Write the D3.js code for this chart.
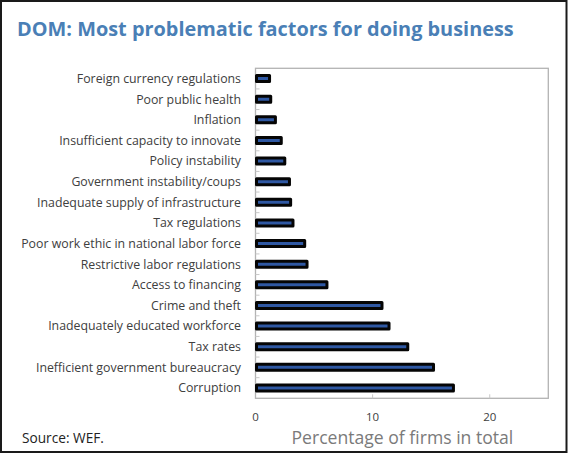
<!DOCTYPE html>
<html>
<head>
<meta charset="utf-8">
<script src="https://cdn.jsdelivr.net/npm/d3@7/dist/d3.min.js"></script>
<style>
  html, body { margin: 0; padding: 0; background: #fff; }
  svg { display: block; }
  text { font-family: "Open Sans", "Noto Sans", sans-serif; }
</style>
</head>
<body>
<svg id="chart" width="568" height="454"></svg>
<script>
// Factors, top to bottom, and share of firms citing each (%)
const factors = [
  "Foreign currency regulations",
  "Poor public health",
  "Inflation",
  "Insufficient capacity to innovate",
  "Policy instability",
  "Government instability/coups",
  "Inadequate supply of infrastructure",
  "Tax regulations",
  "Poor work ethic in national labor force",
  "Restrictive labor regulations",
  "Access to financing",
  "Crime and theft",
  "Inadequately educated workforce",
  "Tax rates",
  "Inefficient government bureaucracy",
  "Corruption"
];
const shares = [1.2, 1.3, 1.7, 2.2, 2.5, 2.9, 3.0, 3.2, 4.2, 4.4, 6.1, 10.8, 11.4, 13.0, 15.2, 16.9];
const xTicks = [0, 10, 20];

const titleText = "DOM: Most problematic factors for doing business";
const sourceText = "Source: WEF.";
const axisTitle = "Percentage of firms in total";

const svg = d3.select("#chart");
const W = 568, H = 454;

// Scale a text element's font so it spans the given width
function fitWidth(sel, base, width) {
  sel.attr("font-size", base);
  const w = sel.node().getComputedTextLength();
  sel.attr("font-size", base * width / w);
  return base * width / w;
}

// Frame around the whole figure
svg.append("rect")
  .attr("x", 1).attr("y", 1).attr("width", W - 2.5).attr("height", H - 3)
  .attr("fill", "none").attr("stroke", "#1a1a1a").attr("stroke-width", 2);

// Title
const title = svg.append("text")
  .attr("x", 17).attr("y", 36)
  .attr("fill", "#4a7fb6")
  .attr("font-weight", "bold")
  .text(titleText);
fitWidth(title, 18, 497);

// Plot area
const plot = { left: 255.5, right: 548.3, top: 68.3, bottom: 398.3 };

const x = d3.scaleLinear().domain([0, 25]).range([plot.left, plot.right]);
const y = d3.scaleBand().domain(factors).range([plot.top, plot.bottom]);

svg.append("rect")
  .attr("x", plot.left).attr("y", plot.top)
  .attr("width", plot.right - plot.left).attr("height", plot.bottom - plot.top)
  .attr("fill", "none").attr("stroke", "#b3b3b3").attr("stroke-width", 1.3);

// Category boundary tick marks inside the left edge
const bounds = factors.slice(1).map(f => y(f));
svg.append("g").selectAll("line").data(bounds).join("line")
  .attr("x1", plot.left).attr("x2", plot.left + 4)
  .attr("y1", d => d).attr("y2", d => d)
  .attr("stroke", "#c8c8c8").attr("stroke-width", 1);

// Value tick marks inside the bottom edge
svg.append("g").selectAll("line").data(xTicks.filter(t => t > 0)).join("line")
  .attr("x1", d => x(d)).attr("x2", d => x(d))
  .attr("y1", plot.bottom).attr("y2", plot.bottom - 4)
  .attr("stroke", "#c8c8c8").attr("stroke-width", 1);

// Bars
const barH = 6;
svg.append("g").selectAll("rect").data(factors).join("rect")
  .attr("x", x(0) + 1)
  .attr("y", d => y(d) + y.bandwidth() / 2 - barH / 2)
  .attr("width", (d, i) => x(shares[i]) - x(0) - 1)
  .attr("height", barH)
  .attr("fill", "#2f58a3")
  .attr("stroke", "#050505")
  .attr("stroke-width", 3)
  .attr("stroke-linejoin", "round");

// Category labels, sized so the longest one spans the left margin
const labels = svg.append("g").selectAll("text").data(factors).join("text")
  .attr("x", 241)
  .attr("y", d => y(d) + y.bandwidth() / 2)
  .attr("dy", "0.35em")
  .attr("text-anchor", "end")
  .attr("fill", "#404040")
  .text(d => d);
const longest = labels.filter(d => d === "Poor work ethic in national labor force");
const labelSize = fitWidth(longest, 11, 220);
labels.attr("font-size", labelSize);

// Value axis labels
svg.append("g").selectAll("text").data(xTicks).join("text")
  .attr("x", d => x(d))
  .attr("y", 421)
  .attr("text-anchor", "middle")
  .attr("font-size", 11.5)
  .attr("fill", "#404040")
  .text(d => d);

// Axis title
const at = svg.append("text")
  .attr("x", (plot.left + plot.right) / 2 + 0.5)
  .attr("y", 444)
  .attr("text-anchor", "middle")
  .attr("fill", "#7a7a7a")
  .text(axisTitle);
fitWidth(at, 15, 222);

// Source note
const src = svg.append("text")
  .attr("x", 22)
  .attr("y", 443)
  .attr("fill", "#222")
  .text(sourceText);
fitWidth(src, 13, 82);
</script>
</body>
</html>
